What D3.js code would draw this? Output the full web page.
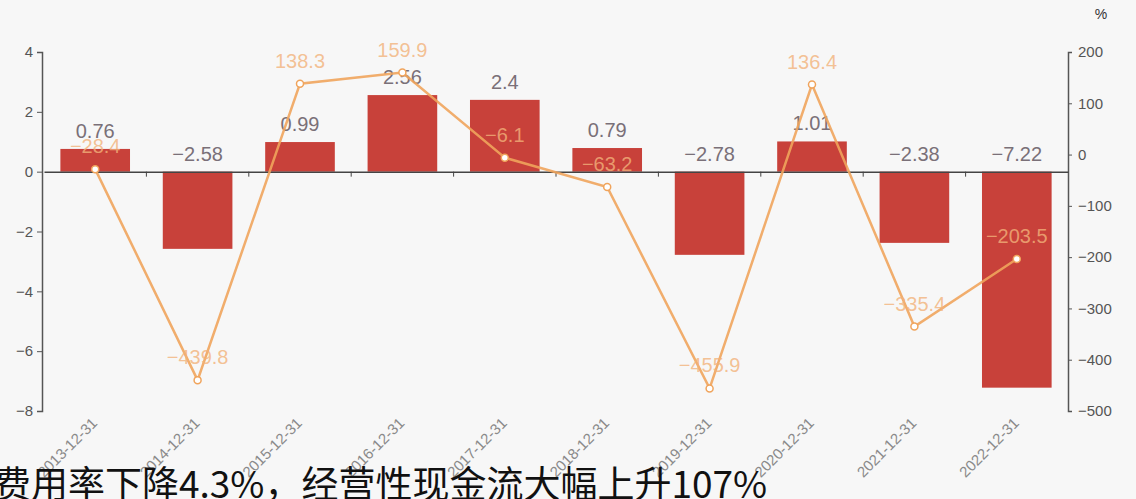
<!DOCTYPE html>
<html>
<head>
<meta charset="utf-8">
<script src="https://cdn.jsdelivr.net/npm/d3@7"></script>
<style>
  html, body { margin: 0; padding: 0; background: #f7f7f7; overflow: hidden; }
  svg { display: block; }
</style>
</head>
<body>
<svg id="chart" width="1136" height="499"></svg>
<script>
// data
var years = ["2013-12-31", "2014-12-31", "2015-12-31", "2016-12-31", "2017-12-31",
             "2018-12-31", "2019-12-31", "2020-12-31", "2021-12-31", "2022-12-31"];
var barValues = [0.76, -2.58, 0.99, 2.56, 2.4, 0.79, -2.78, 1.01, -2.38, -7.22];
var lineValues = [-28.4, -439.8, 138.3, 159.9, -6.1, -63.2, -455.9, 136.4, -335.4, -203.5];
var leftTicks = [4, 2, 0, -2, -4, -6, -8];
var rightTicks = [200, 100, 0, -100, -200, -300, -400, -500];
var caption = "费用率下降4.3%，经营性现金流大幅上升107%";

var svg = d3.select("#chart");
var font = "'Liberation Sans', Arial, sans-serif";
var fmtMinus = function(v) { return String(v).replace("-", "−"); };

var x = d3.scaleBand().domain(years).range([44, 1068]);
var yL = d3.scaleLinear().domain([-8, 4]).range([411, 52]);
var yR = d3.scaleLinear().domain([-500, 200]).range([411, 52]);
var bw = x.bandwidth() * 0.68;
var cx = function(i) { return x(years[i]) + x.bandwidth() / 2; };

// left axis
var leftAxis = svg.append("g")
    .attr("transform", "translate(42,0)")
    .call(d3.axisLeft(yL).tickValues(leftTicks).tickSize(5).tickPadding(4).tickFormat(fmtMinus));
leftAxis.select(".domain").attr("stroke", "#555").attr("stroke-width", 1.5);
leftAxis.selectAll(".tick line").attr("stroke", "#555");
leftAxis.selectAll("text").attr("fill", "#555").style("font-size", "15px").style("font-family", font);

// right axis
var rightAxis = svg.append("g")
    .attr("transform", "translate(1068,0)")
    .call(d3.axisRight(yR).tickValues(rightTicks).tickSize(4).tickPadding(6).tickFormat(fmtMinus));
rightAxis.select(".domain").attr("stroke", "#555").attr("stroke-width", 1.5);
rightAxis.selectAll(".tick line").attr("stroke", "#555");
rightAxis.selectAll("text").attr("fill", "#555").style("font-size", "15px").style("font-family", font);

svg.append("text")
    .attr("x", 1101).attr("y", 19)
    .attr("text-anchor", "middle")
    .attr("fill", "#333")
    .style("font-size", "14px").style("font-family", font)
    .text("%");

// bars
svg.selectAll(".bar")
    .data(barValues)
    .enter().append("rect")
    .attr("class", "bar")
    .attr("x", function(d, i) { return x(years[i]) + (x.bandwidth() - bw) / 2; })
    .attr("y", function(d) { return yL(Math.max(0, d)); })
    .attr("width", bw)
    .attr("height", function(d) { return Math.abs(yL(d) - yL(0)); })
    .attr("fill", "#c8413a");

// zero line with band ticks
var zeroAxis = svg.append("g")
    .attr("transform", "translate(0," + yL(0) + ")")
    .call(d3.axisBottom(x).tickSize(0).tickFormat(""));
zeroAxis.select(".domain").attr("stroke", "#444").attr("stroke-width", 1.5);
zeroAxis.selectAll(".sep")
    .data(years.slice(1))
    .enter().append("line")
    .attr("class", "sep")
    .attr("x1", function(d) { return x(d); })
    .attr("x2", function(d) { return x(d); })
    .attr("y1", 0).attr("y2", 5)
    .attr("stroke", "#444");

// bar labels
svg.selectAll(".barLabel")
    .data(barValues)
    .enter().append("text")
    .attr("class", "barLabel")
    .attr("x", function(d, i) { return cx(i); })
    .attr("y", function(d) { return yL(Math.max(0, d)) - 11; })
    .attr("text-anchor", "middle")
    .attr("fill", "#7a7078")
    .style("font-size", "20px").style("font-family", font)
    .text(fmtMinus);

// line
var line = d3.line()
    .x(function(d, i) { return cx(i); })
    .y(function(d) { return yR(d); });

svg.append("path")
    .datum(lineValues)
    .attr("d", line)
    .attr("fill", "none")
    .attr("stroke", "#f0a45c")
    .attr("stroke-opacity", 0.9)
    .attr("stroke-width", 2.5);

svg.selectAll(".dot")
    .data(lineValues)
    .enter().append("circle")
    .attr("class", "dot")
    .attr("cx", function(d, i) { return cx(i); })
    .attr("cy", function(d) { return yR(d); })
    .attr("r", 3.5)
    .attr("fill", "#fff")
    .attr("stroke", "#f0a45c")
    .attr("stroke-width", 1.5);

svg.selectAll(".lineLabel")
    .data(lineValues)
    .enter().append("text")
    .attr("class", "lineLabel")
    .attr("x", function(d, i) { return cx(i); })
    .attr("y", function(d) { return yR(d) - 16; })
    .attr("text-anchor", "middle")
    .attr("fill", "#f2b27a")
    .attr("fill-opacity", 0.8)
    .style("font-size", "20px").style("font-family", font)
    .text(fmtMinus);

// x labels, rotated
svg.selectAll(".xLabel")
    .data(years)
    .enter().append("text")
    .attr("class", "xLabel")
    .attr("transform", function(d) {
        return "translate(" + (x(d) + x.bandwidth() / 2 + 3) + ",424) rotate(-45)";
    })
    .attr("text-anchor", "end")
    .attr("fill", "#8a8a8a")
    .style("font-size", "15px").style("font-family", font)
    .text(function(d) { return d; });

// overlaid caption, cut at the left edge
svg.append("text")
    .attr("x", -6).attr("y", 498)
    .attr("fill", "#111")
    .style("font-size", "37px")
    .style("font-family", "'Noto Sans CJK SC', sans-serif")
    .text(caption);
</script>
</body>
</html>
